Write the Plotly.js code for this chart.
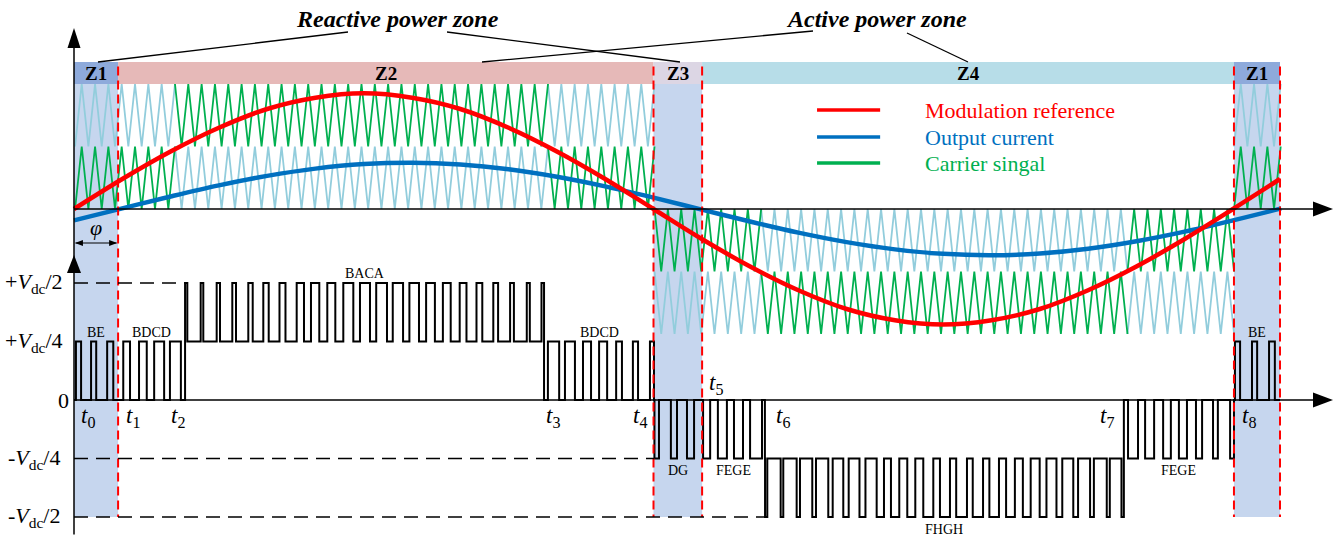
<!DOCTYPE html>
<html><head><meta charset="utf-8">
<script src="https://cdn.plot.ly/plotly-3.0.1.min.js"></script>
<style>html,body{margin:0;padding:0;background:#fff}#chart{width:1344px;height:537px}</style>
</head><body><div id="chart"></div>
<script>
// ================= DATA (x = electrical angle in degrees) =================
// upper panel, per-unit of carrier span
const curveAngle = [0,15,30,45,60,75,90,105,120,135,150,165,180,195,210,225,240,255,270,285,300,315,330,345,360,375];
const modulationReference = [0,0.24,0.46,0.65,0.80,0.89,0.925,0.89,0.80,0.65,0.46,0.24,0,-0.24,-0.46,-0.65,-0.80,-0.89,-0.925,-0.89,-0.80,-0.65,-0.46,-0.24,0,0.24];
const outputCurrent = [-0.091,0.005,0.100,0.189,0.265,0.323,0.359,0.370,0.356,0.318,0.258,0.181,0.091,-0.005,-0.100,-0.189,-0.265,-0.323,-0.359,-0.370,-0.356,-0.318,-0.258,-0.181,-0.091,0.005];

// carrier turning points (even index = band bottom, odd index = band top)
const carrierTurns = [0.33,2.40,4.47,6.54,8.61,10.68,12.74,14.81,16.88,18.95,21.02,23.09,25.16,27.23,29.30,31.37,33.43,35.50,37.57,39.64,
41.71,43.78,45.85,47.92,49.99,52.06,54.12,56.19,58.26,60.33,62.40,64.47,66.54,68.61,70.68,72.75,74.81,76.88,78.95,81.02,
83.09,85.16,87.23,89.30,91.37,93.44,95.50,97.57,99.64,101.71,103.78,105.85,107.92,109.99,112.06,114.13,116.19,118.26,120.33,122.40,
124.47,126.54,128.61,130.68,132.75,134.82,136.88,138.95,141.02,143.09,145.16,147.23,149.30,151.37,153.44,155.51,157.57,159.64,161.71,163.78,
165.85,167.92,169.99,172.06,174.13,176.20,178.26,180.33,182.40,184.47,186.54,188.61,190.68,192.75,194.82,196.89,198.95,201.02,203.09,205.16,
207.23,209.30,211.37,213.44,215.51,217.58,219.64,221.71,223.78,225.85,227.92,229.99,232.06,234.13,236.20,238.27,240.33,242.40,244.47,246.54,
248.61,250.68,252.75,254.82,256.89,258.96,261.02,263.09,265.16,267.23,269.30,271.37,273.44,275.51,277.58,279.65,281.71,283.78,285.85,287.92,
289.99,292.06,294.13,296.20,298.27,300.34,302.40,304.47,306.54,308.61,310.68,312.75,314.82,316.89,318.96,321.03,323.09,325.16,327.23,329.30,
331.37,333.44,335.51,337.58,339.65,341.72,343.78,345.85,347.92,349.99,352.06,354.13,356.20,358.27,360.34,362.41,364.47,366.54,368.61,370.68,
372.75,374.82];
const carrierBands = [[0.5,1],[0,0.5],[-0.5,0],[-1,-0.5]];
const carrierSegStart = [0.33,31.37,147.23,180.33,213.44,327.23,360.34];
const carrierSegEnd   = [31.37,147.23,180.33,213.44,327.23,360.34,374.82];
const activeBand = [1,0,1,2,3,2,1];
const idleBand   = [0,1,0,3,2,3,0];

// zones
const zoneNames = ['Z1','Z2','Z3','Z4','Z1'];
const zoneEdges = [0,13.7,180,195.1,360.3,374.6];
const zoneKind  = ['reactive','active','reactive','active','reactive'];

// switching instants
const tNames  = ['0','1','2','3','4','5','6','7','8'];
const tAngles = [0,13.7,34.5,146.0,180.2,195.1,214.6,326.1,360.3];

// lower panel: output voltage in units of Vdc/4
const levelValues = [2,1,0,-1,-2];
const levelLabels = ['+<i>V</i><sub>dc</sub>/2','+<i>V</i><sub>dc</sub>/4','0','-<i>V</i><sub>dc</sub>/4','-<i>V</i><sub>dc</sub>/2'];

const segName  = ['BE','BDCD','BACA','BDCD','DG','FEGE','FHGH','FEGE','BE'];
const segStart = [0,13.7,34.5,146.0,180.2,195.1,214.6,326.1,360.3];
const segEnd   = [13.7,34.5,146.0,180.2,195.1,214.6,326.1,360.3,374.6];
const segBase  = [0,0,1,0,0,0,-1,0,0];
const segPulse = [1,1,2,1,-1,-1,-2,-1,1];
const pulseOn = [
  [0.6,5.3,10.3],
  [15.3,20.2,24.9,29.8],
  [34.50,39.35,44.32,49.17,54.14,58.80,63.83,69.17,73.61,78.68,83.65,88.83,93.87,99.01,104.18,109.37,114.58,119.80,125.02,130.24,135.46,140.64,145.21],
  [147.2,152.5,158.1,163.1,168.4,173.6,178.9],
  [180.3,185.4,190.4],
  [195.4,200.0,205.0,210.0],
  [214.65,219.50,224.47,229.32,234.29,238.95,243.98,249.32,253.76,258.83,263.80,268.98,274.02,279.16,284.33,289.52,294.73,299.95,305.17,310.39,315.61,320.79,325.36],
  [327.4,332.7,338.3,343.2,348.5,353.8,359.1],
  [360.6,365.9,371.2]
];
const pulseOff = [
  [2.2,6.9,12.2],
  [17.4,22.6,28.0,33.2],
  [35.20,40.16,45.35,50.32,55.51,60.48,65.69,71.44,76.19,81.17,86.76,91.94,97.22,102.21,107.16,112.10,117.01,121.91,126.82,131.73,136.64,141.58,146.00],
  [150.7,155.6,160.6,165.6,170.2,175.2,180.15],
  [181.7,187.3,192.6],
  [197.6,202.8,207.8,213.7],
  [215.35,220.31,225.50,230.47,235.66,240.63,245.84,251.59,256.34,261.32,266.91,272.09,277.37,282.36,287.31,292.25,297.16,302.06,306.97,311.88,316.79,321.73,326.10],
  [330.5,335.5,340.7,345.7,350.4,355.3,360.3],
  [362.2,367.5,373.0]
];
const legendNames = ['Modulation reference','Output current','Carrier singal'];

// ================= LAYOUT / STYLE =================
const X_RANGE = [-22.985, 394.48];
const Y_UP = [-2.624, 1.672];
const Y_LOW = [-2.342, 6.838];
const FONT = '"Liberation Serif", "Times New Roman", serif';
const RED = '#ff0000', BLUE = '#0070c0', GREEN = '#00b050', LIGHTBLUE = '#92cddc';
const zoneBarColor = ['#8eaadb','#e6b9b8','#dcd6e4','#b7dde8','#8eaadb'];
const SHADE = '#c6d6ee';
function lowToUp(v){ const f=(v-Y_LOW[0])/(Y_LOW[1]-Y_LOW[0]); return Y_UP[0]+f*(Y_UP[1]-Y_UP[0]); }

// carriers
const idleX=[],idleY=[],actX=[],actY=[];
function addCarrier(X,Y,band,a,b){
  carrierTurns.forEach((t,k)=>{ if(t>=a-1e-6 && t<=b+1e-6){ X.push(t); Y.push(carrierBands[band][k%2===0?0:1]); } });
  X.push(null); Y.push(null);
}
for(let i=0;i<carrierSegStart.length;i++){
  addCarrier(idleX,idleY,idleBand[i],carrierSegStart[i],carrierSegEnd[i]);
  addCarrier(actX,actY,activeBand[i],carrierSegStart[i],carrierSegEnd[i]);
}
// output voltage step data
const vx=[],vy=[];
for(let r=0;r<segStart.length;r++){
  vx.push(segStart[r]); vy.push(segBase[r]);
  pulseOn[r].forEach((on,i)=>{ vx.push(on); vy.push(segPulse[r]); vx.push(pulseOff[r][i]); vy.push(segBase[r]); });
}
vx.push(segEnd[segEnd.length-1]); vy.push(segBase[segBase.length-1]);

const traces = [
  {x:idleX,y:idleY,mode:'lines',line:{color:LIGHTBLUE,width:1.8},hoverinfo:'skip',name:'idle carrier'},
  {x:actX,y:actY,mode:'lines',line:{color:GREEN,width:1.8},hoverinfo:'skip',name:legendNames[2]},
  {x:curveAngle,y:outputCurrent,mode:'lines',line:{color:BLUE,width:4.5,shape:'spline'},hoverinfo:'skip',name:legendNames[1]},
  {x:curveAngle.slice(0,-1).concat([374.6]),y:modulationReference,mode:'lines',line:{color:RED,width:4.5,shape:'spline'},hoverinfo:'skip',name:legendNames[0]},
  {x:vx,y:vy,yaxis:'y2',mode:'lines',line:{color:'#000',width:2,shape:'hv'},hoverinfo:'skip',name:'output voltage'}
];

const shapes=[], ann=[];
// zone shading and bars
for(let i=0;i<zoneNames.length;i++){
  const a=zoneEdges[i], b=zoneEdges[i+1];
  if(zoneKind[i]==='reactive') shapes.push({type:'rect',xref:'x',yref:'y',x0:a,x1:b,y0:lowToUp(-2),y1:1,fillcolor:SHADE,line:{width:0},layer:'below'});
  shapes.push({type:'rect',xref:'x',yref:'y',x0:a,x1:b,y0:1,y1:1.176,fillcolor:zoneBarColor[i],line:{width:0},layer:'below'});
  ann.push({x:(a+b)/2,y:1.088,xref:'x',yref:'y',text:'<b>'+zoneNames[i]+'</b>',showarrow:false,font:{family:FONT,size:19,color:'#000'}});
}
// red dashed zone boundaries
for(let i=1;i<zoneEdges.length;i++){
  shapes.push({type:'line',xref:'x',yref:'y',x0:zoneEdges[i],x1:zoneEdges[i],y0:1.14,y1:lowToUp(-2),line:{color:RED,width:2,dash:'9px,5px'},layer:'above'});
}
// level dashed lines
[[2,tAngles[2]],[-1,tAngles[4]],[-2,tAngles[6]]].forEach(p=>{
  shapes.push({type:'line',xref:'x',yref:'y2',x0:0,x1:p[1],y0:p[0],y1:p[0],line:{color:'#000',width:1.5,dash:'14px,8px'}});
});
// axes
const AX_END = 391.06;
shapes.push({type:'line',xref:'x',yref:'y',x0:0,x1:AX_END-3,y0:0,y1:0,line:{color:'#000',width:1.5}});
shapes.push({type:'line',xref:'x',yref:'y2',x0:0,x1:AX_END-3,y0:0,y1:0,line:{color:'#000',width:1.5}});
shapes.push({type:'line',xref:'x',yref:'y',x0:0,x1:0,y0:lowToUp(-2.3),y1:1.42,line:{color:'#000',width:1.5}});
shapes.push({type:'path',xref:'x',yref:'y',xsizemode:'pixel',ysizemode:'pixel',xanchor:AX_END,yanchor:0,path:'M0,0L-20,7.5L-20,-7.5Z',fillcolor:'#000',line:{width:0}});
shapes.push({type:'path',xref:'x',yref:'y2',xsizemode:'pixel',ysizemode:'pixel',xanchor:AX_END,yanchor:0,path:'M0,0L-20,7.5L-20,-7.5Z',fillcolor:'#000',line:{width:0}});
shapes.push({type:'path',xref:'x',yref:'y',xsizemode:'pixel',ysizemode:'pixel',xanchor:0,yanchor:1.448,path:'M0,0L-6.5,-20L6.5,-20Z',fillcolor:'#000',line:{width:0}});
shapes.push({type:'path',xref:'x',yref:'y2',xsizemode:'pixel',ysizemode:'pixel',xanchor:0,yanchor:2.479,path:'M0,0L-7,-18L7,-18Z',fillcolor:'#000',line:{width:0}});
// phi arrow
const PHI_Y = -0.272;
shapes.push({type:'line',xref:'x',yref:'y',x0:0.5,x1:zoneEdges[1]-0.5,y0:PHI_Y,y1:PHI_Y,line:{color:'#000',width:1.2}});
shapes.push({type:'path',xref:'x',yref:'y',xsizemode:'pixel',ysizemode:'pixel',xanchor:0.3,yanchor:PHI_Y,path:'M0,0L8,3L8,-3Z',fillcolor:'#000',line:{width:0}});
shapes.push({type:'path',xref:'x',yref:'y',xsizemode:'pixel',ysizemode:'pixel',xanchor:zoneEdges[1]-0.3,yanchor:PHI_Y,path:'M0,0L-8,3L-8,-3Z',fillcolor:'#000',line:{width:0}});
ann.push({x:zoneEdges[1]/2,y:-0.15,xref:'x',yref:'y',text:'<i>φ</i>',showarrow:false,font:{family:FONT,size:22,color:'#000'}});
// titles and leader lines
ann.push({x:100.5,y:1.52,xref:'x',yref:'y',text:'<b><i>Reactive power zone</i></b>',showarrow:false,font:{family:FONT,size:24,color:'#000'}});
ann.push({x:249.4,y:1.52,xref:'x',yref:'y',text:'<b><i>Active power zone</i></b>',showarrow:false,font:{family:FONT,size:24,color:'#000'}});
[[85.11,1.416,7.45,1.176],[115.86,1.416,188.23,1.176],[229.54,1.424,126.73,1.176],[258.74,1.408,277.69,1.176]].forEach(l=>{
  shapes.push({type:'line',xref:'x',yref:'y',x0:l[0],y0:l[1],x1:l[2],y1:l[3],line:{color:'#000',width:1.3}});
});
// legend
const legColors=[RED,BLUE,GREEN], legY=[0.792,0.576,0.368];
for(let i=0;i<3;i++){
  shapes.push({type:'line',xref:'x',yref:'y',x0:230.8,x1:250.4,y0:legY[i],y1:legY[i],line:{color:legColors[i],width:3.5}});
  ann.push({x:263.7,y:legY[i],xref:'x',yref:'y',xanchor:'left',text:legendNames[i],showarrow:false,font:{family:FONT,size:22,color:legColors[i]}});
}
// level labels
levelValues.forEach((v,i)=>{
  ann.push({x:v===0?-0.8:(v>0?-2.7:-3.6),y:v,xref:'x',yref:'y2',xanchor:'right',text:levelLabels[i],showarrow:false,font:{family:FONT,size:22,color:'#000'}});
});
// time labels
const tLabelDx=[4.4,4.6,-2.2,2.8,-4.4,4.3,5.6,-5.2,4.7];
tNames.forEach((n,i)=>{
  ann.push({x:tAngles[i]+tLabelDx[i],y:i===5?0.27:-0.29,xref:'x',yref:'y2',text:'<i>t</i><sub>'+n+'</sub>',showarrow:false,font:{family:FONT,size:23,color:'#000'}});
});
// segment labels
segName.forEach((n,i)=>{
  const hi=Math.max(segBase[i],segPulse[i]), lo=Math.min(segBase[i],segPulse[i]);
  const y = segPulse[i]>0 ? hi+0.16 : lo-0.21;
  ann.push({x:(segStart[i]+segEnd[i])/2,y:y,xref:'x',yref:'y2',text:n,showarrow:false,font:{family:FONT,size:14,color:'#000'}});
});

const layout = {
  width:1344,height:537,margin:{l:0,r:0,t:0,b:0},
  paper_bgcolor:'#fff',plot_bgcolor:'#fff',showlegend:false,
  font:{family:FONT},
  xaxis:{range:X_RANGE,visible:false,fixedrange:true},
  yaxis:{range:Y_UP,visible:false,fixedrange:true},
  yaxis2:{range:Y_LOW,visible:false,fixedrange:true,overlaying:'y'},
  shapes:shapes,annotations:ann
};
Plotly.newPlot('chart',traces,layout,{staticPlot:true,displayModeBar:false});
</script></body></html>
